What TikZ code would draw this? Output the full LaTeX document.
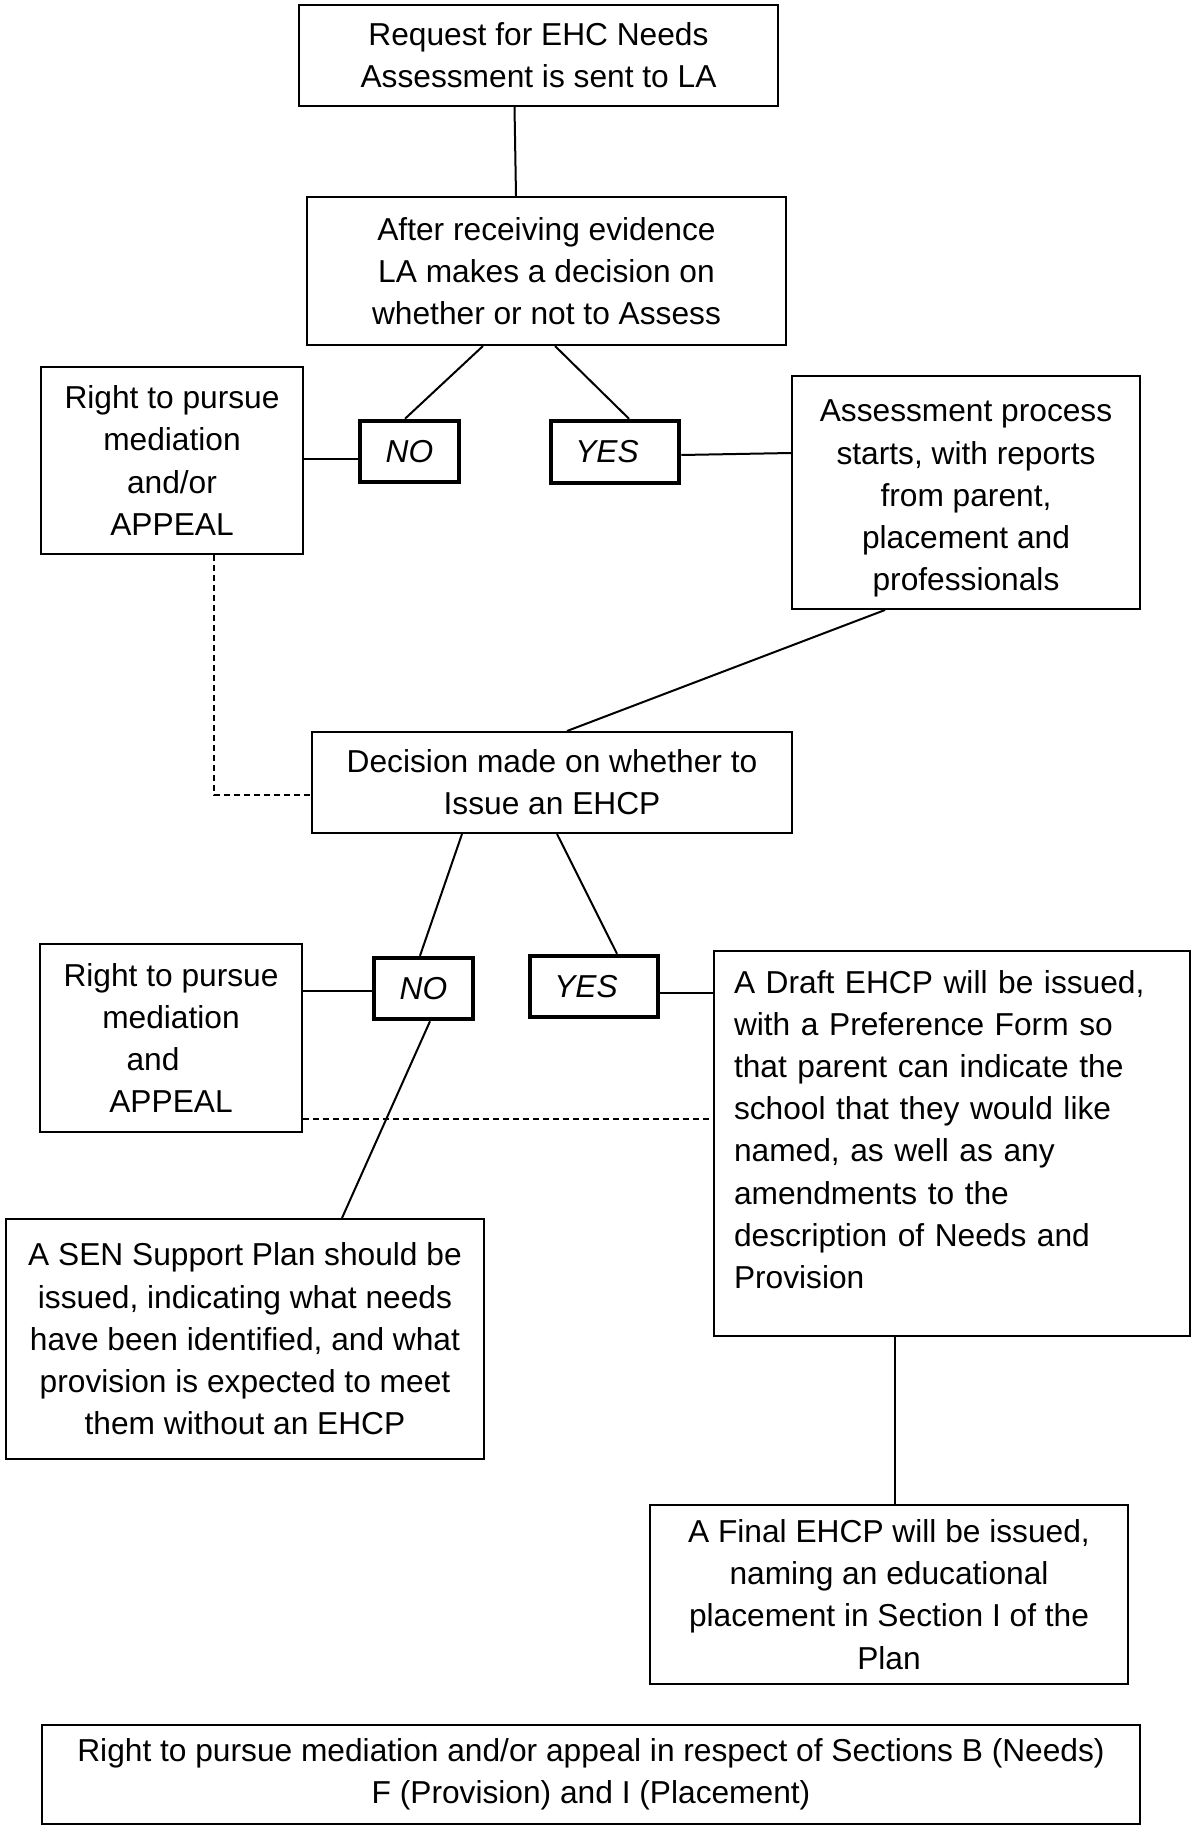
\documentclass[tikz,border=0pt]{standalone}
\usepackage{fontspec}
\setmainfont{Liberation Sans}
\usetikzlibrary{calc}

\begin{document}
\begin{tikzpicture}
[x=1pt, y=-1pt, font=\fontsize{31.7}{42.2}\selectfont, draw=black, line width=2pt,
box/.style={rectangle, draw, inner sep=0pt, align=center},
answer/.style={rectangle, draw, line width=4.5pt, inner sep=0pt, font=\fontsize{31.7}{42.2}\selectfont\itshape},
link/.style={line width=2pt},
optlink/.style={line width=2pt, dash pattern=on 6pt off 4pt}]

\useasboundingbox (0,0) rectangle (1192,1825);

% first stage
\node[box, minimum width=479pt, minimum height=101pt] (request) at (538.5,55.5) {Request for EHC Needs\\Assessment is sent to LA};
\node[box, minimum width=479pt, minimum height=148pt] (assessq) at (546.5,271) {After receiving evidence\\LA makes a decision on\\whether or not to Assess};
\node[box, minimum width=262pt, minimum height=187pt] (right1) at (172,460.5) {Right to pursue\\mediation\\and/or\\APPEAL};
\node[answer, minimum width=99pt, minimum height=61pt] (no1) at (409.5,451.5) {NO};
\node[answer, minimum width=128pt, minimum height=62pt] (yes1) at (615,452) {YES\kern16pt};
\node[box, minimum width=348pt, minimum height=233pt] (process) at (966,492.5) {\\[-8pt]Assessment process\\starts, with reports\\from parent,\\placement and\\professionals};

% second stage
\node[box, minimum width=480pt, minimum height=101pt] (issueq) at (552,782.5) {Decision made on whether to\\Issue an EHCP};
\node[box, minimum width=262pt, minimum height=188pt] (right2) at (171,1038) {Right to pursue\\mediation\\and\kern36pt\\APPEAL};
\node[answer, minimum width=99pt, minimum height=61pt] (no2) at (423.5,988.5) {NO};
\node[answer, minimum width=128pt, minimum height=61pt] (yes2) at (594,986.5) {YES\kern16pt};
\node[box, align=left, text width=436pt, inner xsep=20pt, minimum height=385pt] (draft) at (952,1143.5) {A Draft EHCP will be issued,\\with a Preference Form so\\that parent can indicate the\\school that they would like\\named, as well as any\\amendments to the\\description of Needs and\\Provision\par\kern28pt};
\node[box, minimum width=478pt, minimum height=240pt] (senplan) at (245,1339) {A SEN Support Plan should be\\issued, indicating what needs\\have been identified, and what\\provision is expected to meet\\them without an EHCP};
\node[box, minimum width=478pt, minimum height=179pt] (final) at (889,1594.5) {A Final EHCP will be issued,\\naming an educational\\placement in Section I of the\\Plan};
\node[box, minimum width=1098pt, minimum height=99pt] (appeal) at (591,1774) {Right to pursue mediation and/or appeal in respect of Sections B (Needs)\\F (Provision) and I (Placement)};

\draw[link] ($(request.south)+(-24,0)$) -- ($(assessq.north)+(-30.5,0)$);
\draw[link] ($(assessq.south)+(-63.5,0)$) -- ($(no1.north)+(-4.5,0)$);
\draw[link] ($(assessq.south)+(8.5,0)$) -- ($(yes1.north)+(14,0)$);
\draw[link] ($(right1.east)+(0,-2)$) -- ($(no1.west)+(0,7)$);
\draw[link] ($(yes1.east)+(0,3)$) -- ($(process.west)+(0,-39.5)$);
\draw[link] ($(process.south)+(-81,0)$) -- ($(issueq.north)+(15,0)$);
\draw[optlink] ($(right1.south)+(42,0)$) |- ($(issueq.west)+(0,12.5)$);

\draw[link] ($(issueq.south)+(-90,0)$) -- ($(no2.north)+(-3.5,0)$);
\draw[link] ($(issueq.south)+(5,0)$) -- ($(yes2.north)+(23,0)$);
\draw[link] ($(right2.east)+(0,-47)$) -- ($(no2.west)+(0,2.5)$);
\draw[link] ($(yes2.east)+(0,6.5)$) -- ($(draft.west)+(0,-150.5)$);
\draw[optlink] ($(right2.east)+(0,81)$) -- ($(draft.west)+(0,-24.5)$);
\draw[link] ($(no2.south)+(6.5,0)$) -- ($(senplan.north)+(97,0)$);
\draw[link] ($(draft.south)+(-57,0)$) -- ($(final.north)+(6,0)$);
\end{tikzpicture}
\end{document}
